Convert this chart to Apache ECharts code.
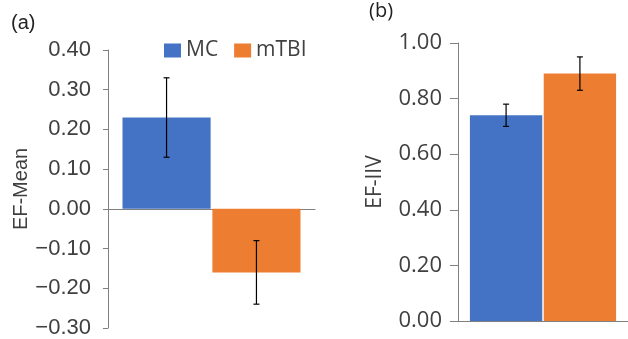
<!DOCTYPE html>
<html>
<head>
<meta charset="utf-8">
<script src="https://cdn.jsdelivr.net/npm/echarts@6/dist/echarts.min.js"></script>
<style>
    html, body { margin: 0; padding: 0; background: #fff; }
    #chart { width: 628px; height: 339px; }
</style>
</head>
<body>
<div id="chart"></div>
<script>
// groups (legend series)
const groups = ['MC', 'mTBI'];
const colors = ['#4472C4', '#ED7D31'];
// panel (a) EF-Mean
const meanVals = [0.23, -0.16];
const meanLow = [0.13, -0.24];
const meanHigh = [0.33, -0.08];
// panel (b) EF-IIV
const iivVals = [0.74, 0.89];
const iivLow = [0.70, 0.83];
const iivHigh = [0.78, 0.95];

const CAT_GAP = 0.14, BAR_GAP = 0.02; // total gap of the band, gap between bars
const axisGray = '#808080';
const textGray = '#404040';

// error bar drawn at the centre of bar "idx" of a two-bar category
function errRender(idx) {
    return function (params, api) {
        const band = api.size([1, 0])[0];
        const w = band * (1 - CAT_GAP) / (2 + BAR_GAP);
        const c = api.coord([api.value(0), api.value(1)]);
        const x = c[0] + (idx === 0 ? -1 : 1) * (w / 2 + w * BAR_GAP / 2);
        const yLo = c[1];
        const yHi = api.coord([api.value(0), api.value(2)])[1];
        const cap = 3;
        const st = { stroke: '#000', lineWidth: 1.2 };
        return {
            type: 'group',
            children: [
                { type: 'line', shape: { x1: x, y1: yLo, x2: x, y2: yHi }, style: st },
                { type: 'line', shape: { x1: x - cap, y1: yLo, x2: x + cap, y2: yLo }, style: st },
                { type: 'line', shape: { x1: x - cap, y1: yHi, x2: x + cap, y2: yHi }, style: st }
            ]
        };
    };
}

const myEcharts = echarts.init(document.getElementById('chart'));

const series = [];
groups.forEach((g, i) => {
    series.push({
        name: g, type: 'bar', xAxisIndex: 0, yAxisIndex: 0,
        barCategoryGap: '14%', barGap: '2%',
        itemStyle: { color: colors[i] },
        data: [meanVals[i]]
    });
    series.push({
        name: g, type: 'bar', xAxisIndex: 1, yAxisIndex: 1,
        barCategoryGap: '14%', barGap: '2%',
        itemStyle: { color: colors[i] },
        data: [iivVals[i]]
    });
});
groups.forEach((g, i) => {
    series.push({
        type: 'custom', xAxisIndex: 0, yAxisIndex: 0, z: 5,
        renderItem: errRender(i),
        encode: { x: 0, y: [1, 2] },
        data: [[0, meanLow[i], meanHigh[i]]]
    });
    series.push({
        type: 'custom', xAxisIndex: 1, yAxisIndex: 1, z: 5,
        renderItem: errRender(i),
        encode: { x: 0, y: [1, 2] },
        data: [[0, iivLow[i], iivHigh[i]]]
    });
});

myEcharts.setOption({
    animation: false,
    legend: {
        data: groups,
        left: 159, top: 35,
        itemWidth: 17, itemHeight: 14, itemGap: 16,
        icon: 'rect',
        textStyle: { fontFamily: 'Open Sans', fontSize: 21, color: textGray }
    },
    graphic: [
        { type: 'text', left: 11, top: 13, style: { text: '(a)', fontFamily: 'Liberation Sans', fontSize: 20, fill: '#222' } },
        { type: 'text', left: 369, top: 1, style: { text: '(b)', fontFamily: 'Open Sans', fontSize: 20, fill: '#222' } }
    ],
    grid: [
        { left: 108, right: 313, top: 50, bottom: 11 },
        { left: 458, width: 176, top: 43, bottom: 18 }
    ],
    xAxis: [
        {
            gridIndex: 0, type: 'category', data: [''],
            axisLine: { onZero: true, lineStyle: { color: axisGray } },
            axisTick: { length: 6, lineStyle: { color: axisGray } },
            axisLabel: { show: false }
        },
        {
            gridIndex: 1, type: 'category', data: [''],
            axisLine: { lineStyle: { color: axisGray } },
            axisTick: { length: 6, lineStyle: { color: axisGray } },
            axisLabel: { show: false }
        }
    ],
    yAxis: [
        {
            gridIndex: 0, type: 'value', min: -0.3, max: 0.4, interval: 0.1,
            name: 'EF-Mean', nameLocation: 'middle', nameGap: 74,
            nameTextStyle: { fontFamily: 'Liberation Sans', fontSize: 20, color: textGray },
            axisLine: { show: true, lineStyle: { color: axisGray } },
            axisTick: { show: true, length: 5, lineStyle: { color: axisGray } },
            splitLine: { show: false },
            axisLabel: {
                margin: 17, fontFamily: 'Liberation Sans', fontSize: 22, color: textGray,
                formatter: v => v.toFixed(2).replace('-', '\u2212')
            }
        },
        {
            gridIndex: 1, type: 'value', min: 0, max: 1, interval: 0.2,
            name: 'EF-IIV', nameLocation: 'middle', nameGap: 72,
            nameTextStyle: { fontFamily: 'Open Sans', fontSize: 21, color: textGray },
            axisLine: { show: true, lineStyle: { color: axisGray } },
            axisTick: { show: true, length: 8, lineStyle: { color: axisGray } },
            splitLine: { show: false },
            axisLabel: {
                margin: 16, fontFamily: 'Open Sans', fontSize: 22, color: textGray,
                formatter: v => v.toFixed(2)
            }
        }
    ],
    series: series
});
</script>
</body>
</html>
